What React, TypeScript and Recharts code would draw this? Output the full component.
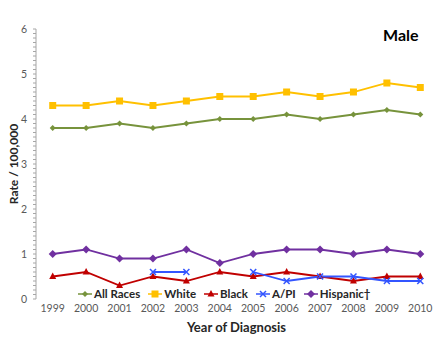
import React from 'react';
import { LineChart, Line, XAxis, YAxis } from 'recharts';

const years = [1999, 2000, 2001, 2002, 2003, 2004, 2005, 2006, 2007, 2008, 2009, 2010];
const allRaces = [3.8, 3.8, 3.9, 3.8, 3.9, 4.0, 4.0, 4.1, 4.0, 4.1, 4.2, 4.1];
const white = [4.3, 4.3, 4.4, 4.3, 4.4, 4.5, 4.5, 4.6, 4.5, 4.6, 4.8, 4.7];
const black = [0.5, 0.6, 0.3, 0.5, 0.4, 0.6, 0.5, 0.6, 0.5, 0.4, 0.5, 0.5];
const api = [null, null, null, 0.6, 0.6, null, 0.6, 0.4, 0.5, 0.5, 0.4, 0.4];
const hispanic = [1.0, 1.1, 0.9, 0.9, 1.1, 0.8, 1.0, 1.1, 1.1, 1.0, 1.1, 1.0];
const yLabels = [0, 1, 2, 3, 4, 5, 6];

const data = years.map((y, i) => ({
  year: y,
  all: allRaces[i],
  white: white[i],
  black: black[i],
  api: api[i],
  hisp: hispanic[i],
}));

const minorTicks = Array.from({ length: 61 }, (_, i) => i / 10);
const boundaryTicks = years.map((y) => y - 0.5).concat([years[years.length - 1] + 0.5]);

const FONT = 'Lato, "Open Sans", sans-serif';

type Shape = 'plus' | 'square' | 'triangle' | 'x' | 'diamond';

const Marker = ({ cx, cy, shape, color }: { cx: number; cy: number; shape: Shape; color: string }) => {
  if (shape === 'square') return <rect x={cx - 3.5} y={cy - 3.5} width={7} height={7} fill={color} />;
  if (shape === 'triangle')
    return <polygon points={`${cx},${cy - 4} ${cx + 3.5},${cy + 2.5} ${cx - 3.5},${cy + 2.5}`} fill={color} />;
  if (shape === 'diamond')
    return <polygon points={`${cx},${cy - 4} ${cx + 4},${cy} ${cx},${cy + 4} ${cx - 4},${cy}`} fill={color} />;
  if (shape === 'x')
    return (
      <g stroke={color} strokeWidth={1.5}>
        <line x1={cx - 3} y1={cy - 3} x2={cx + 3} y2={cy + 3} />
        <line x1={cx - 3} y1={cy + 3} x2={cx + 3} y2={cy - 3} />
      </g>
    );
  return <polygon points={`${cx},${cy - 3} ${cx + 3},${cy} ${cx},${cy + 3} ${cx - 3},${cy}`} fill={color} />;
};

const makeDot = (shape: Shape, color: string) => (props: any) => {
  const { cx, cy, index, value } = props;
  if (value == null || cy == null || isNaN(cy)) return <g key={`d-${shape}-${index}`} />;
  return (
    <g key={`d-${shape}-${index}`}>
      <Marker cx={cx} cy={cy} shape={shape} color={color} />
    </g>
  );
};

const series = [
  { key: 'all', name: 'All Races', color: '#77933C', shape: 'plus' as Shape },
  { key: 'white', name: 'White', color: '#FFC000', shape: 'square' as Shape },
  { key: 'black', name: 'Black', color: '#C00000', shape: 'triangle' as Shape },
  { key: 'api', name: 'A/PI', color: '#3355FF', shape: 'x' as Shape },
  { key: 'hisp', name: 'Hispanic\u2020', color: '#7030A0', shape: 'diamond' as Shape },
];

const LegendBox = () => (
  <div
    style={{
      position: 'absolute',
      left: 78,
      top: 287,
      display: 'flex',
      alignItems: 'center',
      fontFamily: FONT,
      fontWeight: 700,
      fontSize: 11.5,
      color: '#262626',
      whiteSpace: 'nowrap',
    }}
  >
    {series.map((s) => (
      <div key={s.key} style={{ display: 'flex', alignItems: 'center', marginRight: 8 }}>
        <svg width={14} height={10} style={{ marginRight: 2 }}>
          <line x1={0} y1={5} x2={14} y2={5} stroke={s.color} strokeWidth={1.5} />
          <Marker cx={7} cy={5} shape={s.shape} color={s.color} />
        </svg>
        <span>{s.name}</span>
      </div>
    ))}
  </div>
);

const YTick = (props: any) => {
  const { x, y, payload } = props;
  if (!yLabels.includes(payload.value)) return <g />;
  return (
    <text x={x - 4} y={y} dy={4} textAnchor="end" fontSize={10.5} fill="#595959" fontFamily={FONT}>
      {payload.value}
    </text>
  );
};

export default function App() {
  return (
    <div style={{ position: 'absolute', left: 0, top: 0, width: 448, height: 353, background: '#fff' }}>
      <LineChart width={448} height={353} data={data} margin={{ top: 29, right: 11, left: 0, bottom: 24 }}>
        <XAxis
          xAxisId="tk"
          type="number"
          dataKey="year"
          domain={[1998.5, 2010.5]}
          ticks={boundaryTicks}
          tick={false}
          height={0}
          tickSize={4}
          axisLine={{ stroke: '#A6A6A6' }}
          tickLine={{ stroke: '#A6A6A6' }}
        />
        <XAxis
          xAxisId="lab"
          type="number"
          dataKey="year"
          domain={[1998.5, 2010.5]}
          ticks={years}
          height={30}
          axisLine={false}
          tickLine={false}
          tickSize={4}
          tick={{ fontSize: 10.5, fill: '#595959', fontFamily: FONT }}
          label={{
            value: 'Year of Diagnosis',
            position: 'insideBottom',
            offset: -3,
            style: { fontSize: 13, fontWeight: 700, fill: '#262626', fontFamily: FONT },
          }}
        />
        <YAxis
          width={36}
          domain={[0, 6]}
          ticks={minorTicks}
          interval={0}
          tick={<YTick />}
          tickSize={3}
          axisLine={{ stroke: '#A6A6A6' }}
          tickLine={{ stroke: '#A6A6A6' }}
          label={{
            content: (p: any) => {
              const vb = p.viewBox;
              const cy = vb.y + vb.height / 2;
              return (
                <text
                  x={13}
                  y={cy}
                  transform={`rotate(-90 13 ${cy})`}
                  textAnchor="middle"
                  dominantBaseline="central"
                  fontSize={12}
                  fontWeight={700}
                  fill="#262626"
                  fontFamily={FONT}
                >
                  Rate / 100,000
                </text>
              );
            },
          }}
        />
        {series.map((s) => (
          <Line
            key={s.key}
            xAxisId="tk"
            dataKey={s.key}
            name={s.name}
            stroke={s.color}
            strokeWidth={1.8}
            dot={makeDot(s.shape, s.color)}
            activeDot={false}
            isAnimationActive={false}
            connectNulls={false}
          />
        ))}
      </LineChart>
      <LegendBox />
      <div
        style={{
          position: 'absolute',
          left: 383,
          top: 25,
          fontFamily: FONT,
          fontWeight: 700,
          fontSize: 16,
          color: '#000',
        }}
      >
        Male
      </div>
    </div>
  );
}
